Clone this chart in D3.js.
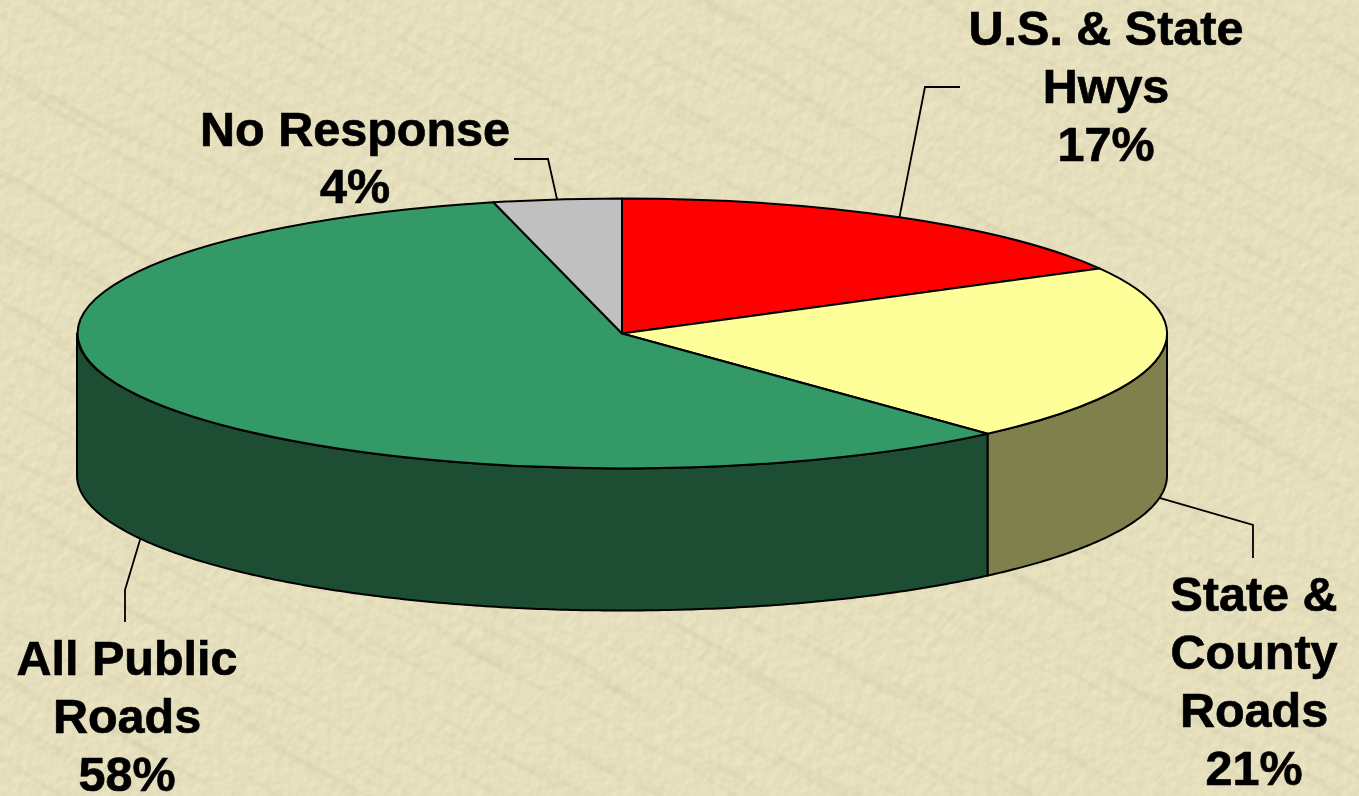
<!DOCTYPE html>
<html>
<head>
<meta charset="utf-8">
<script src="https://cdn.jsdelivr.net/npm/d3@7/dist/d3.min.js"></script>
<style>
html,body{margin:0;padding:0;background:#E4DEBC;overflow:hidden}
svg{display:block}
text{font-family:"Liberation Sans",Arial,sans-serif;font-weight:700;fill:#000;stroke:#000;stroke-width:.7px}
</style>
</head>
<body>
<div id="chart"></div>
<script>
// ---- data ----
const categories = ["U.S. & State Hwys", "State & County Roads", "All Public Roads", "No Response"];
const shares = [17.0, 21.3, 57.9, 3.8];
const topColors = ["#FF0000", "#FFFF99", "#339966", "#C0C0C0"];
const sideColors = ["#800000", "#80804D", "#1D4D33", "#606060"];
const labelLines = [["U.S. & State", "Hwys", "17%"], ["State &", "County", "Roads", "21%"], ["All Public", "Roads", "58%"], ["No Response", "4%"]];

// ---- layout ----
const W = 1359, H = 796;
const cx = 622, cy = 333.5, rx = 545, ry = 135, depth = 142;
const labelCenter = [1106, 1254, 127, 355];
const labelFirstBaseline = [45, 611, 675, 146];
const lineStep = [58, 58, 58, 57];
const elbows = [[[925, 87], [960, 87]], [[1253, 525], [1253, 558]], [[125, 590], [125, 622]], [[548, 159], [514, 159]]];
const fontSize = 48.5;

const x = d3.scaleLinear().domain([-1, 1]).range([cx - rx, cx + rx]);
const y = d3.scaleLinear().domain([-1, 1]).range([cy - ry, cy + ry]);
const rim = (a, dy = 0) => [x(Math.sin(a)), y(-Math.cos(a)) + dy];

const svg = d3.select("#chart").append("svg").attr("width", W).attr("height", H);

// ---- paper texture ----
const defs = svg.append("defs");
const fine = defs.append("filter").attr("id", "fine").attr("x", 0).attr("y", 0).attr("width", "100%").attr("height", "100%");
fine.append("feTurbulence").attr("type", "fractalNoise").attr("baseFrequency", 0.1).attr("numOctaves", 2).attr("seed", 7).attr("result", "n");
fine.append("feDiffuseLighting").attr("in", "n").attr("surfaceScale", 0.55).attr("diffuseConstant", 1.13).attr("lighting-color", "#E6E0BE")
  .append("feDistantLight").attr("azimuth", 225).attr("elevation", 62);
const coarse = defs.append("filter").attr("id", "coarse").attr("x", 0).attr("y", 0).attr("width", "100%").attr("height", "100%");
coarse.append("feTurbulence").attr("type", "fractalNoise").attr("baseFrequency", "0.005 0.035").attr("numOctaves", 3).attr("seed", 11).attr("result", "n");
coarse.append("feDiffuseLighting").attr("in", "n").attr("surfaceScale", 6).attr("diffuseConstant", 1.06).attr("lighting-color", "#FFFFFF")
  .append("feDistantLight").attr("azimuth", 225).attr("elevation", 70);

svg.append("rect").attr("width", W).attr("height", H).attr("fill", "#E4DEBC");
svg.append("rect").attr("width", W).attr("height", H).attr("filter", "url(#fine)");
svg.append("g").attr("transform", "rotate(30 680 398)")
  .append("rect").attr("x", -300).attr("y", -500).attr("width", W + 600).attr("height", H + 1000)
  .attr("filter", "url(#coarse)").attr("opacity", 0.3).style("mix-blend-mode", "multiply");

// ---- pie ----
const pie = d3.pie().sort(null).value(d => d);
const arcs = pie(shares);
const line = d3.line();
const edge = 2;

// side walls: only the near half of the rim is visible
const wallPoints = d => {
  const a0 = Math.max(d.startAngle, Math.PI / 2), a1 = Math.min(d.endAngle, 3 * Math.PI / 2);
  if (a1 <= a0) return null;
  const n = Math.ceil((a1 - a0) / 0.01);
  const angles = d3.range(n + 1).map(i => a0 + (a1 - a0) * i / n);
  return [...angles.map(a => rim(a)), ...angles.slice().reverse().map(a => rim(a, depth))];
};
svg.append("g").selectAll("path").data(arcs.filter(wallPoints)).join("path")
  .attr("d", d => line(wallPoints(d)) + "Z")
  .attr("fill", d => sideColors[d.index])
  .attr("stroke", "#000").attr("stroke-width", edge).attr("stroke-linejoin", "round");

// top faces: unit-radius arcs scaled into the tilted ellipse
const arc = d3.arc().innerRadius(0).outerRadius(1);
svg.append("g").attr("transform", `translate(${cx},${cy}) scale(${rx},${ry})`)
  .selectAll("path").data(arcs).join("path")
  .attr("d", arc)
  .attr("fill", d => topColors[d.index])
  .attr("stroke", "#000").attr("stroke-width", edge).attr("stroke-linejoin", "round")
  .attr("vector-effect", "non-scaling-stroke");

// ---- leaders: start at each slice's mid-angle on the visible edge ----
const leaderStart = d => {
  const mid = (d.startAngle + d.endAngle) / 2;
  return rim(mid, Math.cos(mid) < 0 ? depth : 0);
};
svg.append("g").selectAll("path").data(arcs).join("path")
  .attr("d", d => line([leaderStart(d), ...elbows[d.index]]))
  .attr("fill", "none").attr("stroke", "#000").attr("stroke-width", 1.8);

// ---- labels ----
const labels = svg.append("g").selectAll("text").data(categories).join("text")
  .attr("aria-label", d => d)
  .attr("text-anchor", "middle")
  .attr("font-size", fontSize);
labels.selectAll("tspan").data((d, i) => labelLines[i].map((t, j) => ({t, j, i}))).join("tspan")
  .attr("x", d => labelCenter[d.i])
  .attr("y", d => labelFirstBaseline[d.i] + d.j * lineStep[d.i])
  .text(d => d.t);
</script>
</body>
</html>
